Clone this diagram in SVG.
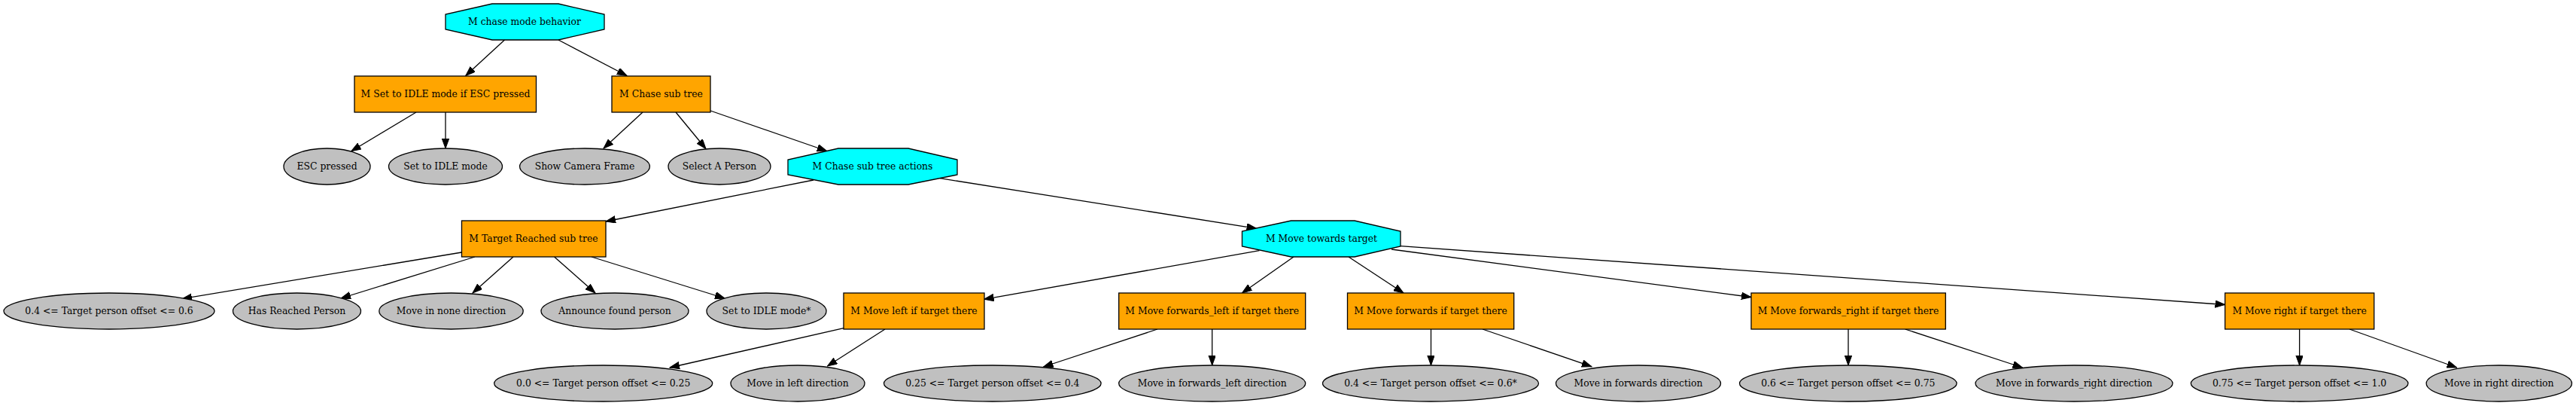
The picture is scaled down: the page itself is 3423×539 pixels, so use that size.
<svg xmlns="http://www.w3.org/2000/svg" width="3423" height="539" viewBox="0 0 3423 539">
<style>
text{font-family:"DejaVu Serif","Liberation Serif",serif;font-size:12.4px;text-anchor:middle;fill:#000}
.box{fill:#FFA500;stroke:#000;stroke-width:1.3}
.oct{fill:#00FFFF;stroke:#000;stroke-width:1.3}
.ell{fill:#C0C0C0;stroke:#000;stroke-width:1.3}
.edge line{stroke:#000;stroke-width:1.3;marker-end:url(#arr)}
</style>
<defs>
<marker id="arr" markerUnits="userSpaceOnUse" markerWidth="14" markerHeight="10" refX="13" refY="4.7" orient="auto">
<path d="M0,0 L13,4.7 L0,9.4 z" fill="#000" stroke="#000" stroke-width="1"/>
</marker>
</defs>
<rect width="3423" height="539" fill="#fff"/>
<g class="edge" id="edges">
<line x1="670.5" y1="53" x2="618.8" y2="100.5"/>
<line x1="742" y1="53" x2="833" y2="100.5"/>
<line x1="553" y1="149" x2="466.7" y2="200.7"/>
<line x1="592" y1="149" x2="592" y2="197"/>
<line x1="854" y1="149" x2="802" y2="197"/>
<line x1="898" y1="149" x2="938" y2="197.5"/>
<line x1="944" y1="147" x2="1098.7" y2="200.5"/>
<line x1="1081" y1="239" x2="805" y2="294"/>
<line x1="1249" y1="236.7" x2="1669.6" y2="303.3"/>
<line x1="613.5" y1="335" x2="242" y2="396.7"/>
<line x1="631" y1="341" x2="453" y2="396"/>
<line x1="682" y1="341" x2="628" y2="389"/>
<line x1="736.6" y1="341" x2="791" y2="389"/>
<line x1="786" y1="341" x2="963" y2="396"/>
<line x1="1673.5" y1="332.7" x2="1307.6" y2="397.3"/>
<line x1="1719" y1="341" x2="1650.5" y2="389"/>
<line x1="1792" y1="341" x2="1865" y2="389"/>
<line x1="1849" y1="331" x2="2327" y2="394.5"/>
<line x1="1861" y1="326.7" x2="2956.6" y2="404.5"/>
<line x1="1121" y1="435.7" x2="890" y2="488"/>
<line x1="1176" y1="437" x2="1099.5" y2="486"/>
<line x1="1538" y1="437" x2="1386.5" y2="487"/>
<line x1="1610.7" y1="437" x2="1610.7" y2="485"/>
<line x1="1901.5" y1="437" x2="1901.5" y2="485"/>
<line x1="1970" y1="437" x2="2115" y2="486.7"/>
<line x1="2456" y1="437" x2="2456" y2="485"/>
<line x1="2531.5" y1="437" x2="2687.5" y2="488"/>
<line x1="3055.6" y1="437" x2="3055.6" y2="485"/>
<line x1="3122" y1="437" x2="3264.6" y2="488"/>
</g>
<g id="root"><polygon class="oct" points="654,5 742,5 803,19 803,39 742,53 654,53 592,39 592,19"/><text x="697" y="33">M chase mode behavior</text></g>
<g id="set_idle_if_esc"><rect class="box" x="471" y="101" width="241.5" height="48"/><text x="592" y="129">M Set to IDLE mode if ESC pressed</text></g>
<g id="chase_sub_tree"><rect class="box" x="813" y="101" width="131" height="48"/><text x="878.5" y="129">M Chase sub tree</text></g>
<g id="esc_pressed"><ellipse class="ell" cx="434.5" cy="221" rx="57.5" ry="24"/><text x="434.5" y="225">ESC pressed</text></g>
<g id="set_idle_mode"><ellipse class="ell" cx="592" cy="221" rx="75.5" ry="24"/><text x="592" y="225">Set to IDLE mode</text></g>
<g id="show_camera"><ellipse class="ell" cx="777" cy="221" rx="86.4" ry="24"/><text x="777" y="225">Show Camera Frame</text></g>
<g id="select_person"><ellipse class="ell" cx="956" cy="221" rx="68" ry="24"/><text x="956" y="225">Select A Person</text></g>
<g id="chase_actions"><polygon class="oct" points="1114,197 1207,197 1272,212 1272,232 1207,245 1114,245 1047,232 1047,212"/><text x="1159.5" y="225">M Chase sub tree actions</text></g>
<g id="target_reached"><rect class="box" x="613.5" y="293" width="191.5" height="48"/><text x="709" y="321">M Target Reached sub tree</text></g>
<g id="move_towards"><polygon class="oct" points="1715.6,293 1800,293 1861,307 1861,327 1800,341 1715.6,341 1650.5,327 1650.5,307"/><text x="1756" y="321">M Move towards target</text></g>
<g id="tr_offset"><ellipse class="ell" cx="145" cy="413" rx="140" ry="24"/><text x="145" y="417">0.4 &lt;= Target person offset &lt;= 0.6</text></g>
<g id="has_reached"><ellipse class="ell" cx="394.5" cy="413" rx="85" ry="24"/><text x="394.5" y="417">Has Reached Person</text></g>
<g id="move_none"><ellipse class="ell" cx="599.5" cy="413" rx="95.7" ry="24"/><text x="599.5" y="417">Move in none direction</text></g>
<g id="announce"><ellipse class="ell" cx="817" cy="413" rx="98" ry="24"/><text x="817" y="417">Announce found person</text></g>
<g id="set_idle_star"><ellipse class="ell" cx="1018.5" cy="413" rx="79.5" ry="24"/><text x="1018.5" y="417">Set to IDLE mode*</text></g>
<g id="move_left"><rect class="box" x="1121" y="389" width="187" height="48"/><text x="1214.5" y="417">M Move left if target there</text></g>
<g id="move_fwd_left"><rect class="box" x="1486.7" y="389" width="248" height="48"/><text x="1610.7" y="417">M Move forwards_left if target there</text></g>
<g id="move_fwd"><rect class="box" x="1790.5" y="389" width="221.2" height="48"/><text x="1901" y="417">M Move forwards if target there</text></g>
<g id="move_fwd_right"><rect class="box" x="2327" y="389" width="258.3" height="48"/><text x="2456" y="417">M Move forwards_right if target there</text></g>
<g id="move_right"><rect class="box" x="2956.6" y="389" width="198.1" height="48"/><text x="3055.6" y="417">M Move right if target there</text></g>
<g id="off_left"><ellipse class="ell" cx="801.7" cy="509" rx="145" ry="24"/><text x="801.7" y="513">0.0 &lt;= Target person offset &lt;= 0.25</text></g>
<g id="dir_left"><ellipse class="ell" cx="1060" cy="509" rx="89" ry="24"/><text x="1060" y="513">Move in left direction</text></g>
<g id="off_fwd_left"><ellipse class="ell" cx="1318.8" cy="509" rx="144.3" ry="24"/><text x="1318.8" y="513">0.25 &lt;= Target person offset &lt;= 0.4</text></g>
<g id="dir_fwd_left"><ellipse class="ell" cx="1610.7" cy="509" rx="124" ry="24"/><text x="1610.7" y="513">Move in forwards_left direction</text></g>
<g id="off_fwd"><ellipse class="ell" cx="1901" cy="509" rx="143.5" ry="24"/><text x="1901" y="513">0.4 &lt;= Target person offset &lt;= 0.6*</text></g>
<g id="dir_fwd"><ellipse class="ell" cx="2177" cy="509" rx="109.5" ry="24"/><text x="2177" y="513">Move in forwards direction</text></g>
<g id="off_fwd_right"><ellipse class="ell" cx="2455.8" cy="509" rx="144.3" ry="24"/><text x="2455.8" y="513">0.6 &lt;= Target person offset &lt;= 0.75</text></g>
<g id="dir_fwd_right"><ellipse class="ell" cx="2756" cy="509" rx="131" ry="24"/><text x="2756" y="513">Move in forwards_right direction</text></g>
<g id="off_right"><ellipse class="ell" cx="3055.6" cy="509" rx="144.3" ry="24"/><text x="3055.6" y="513">0.75 &lt;= Target person offset &lt;= 1.0</text></g>
<g id="dir_right"><ellipse class="ell" cx="3320.8" cy="509" rx="96.7" ry="24"/><text x="3320.8" y="513">Move in right direction</text></g>
</svg>
